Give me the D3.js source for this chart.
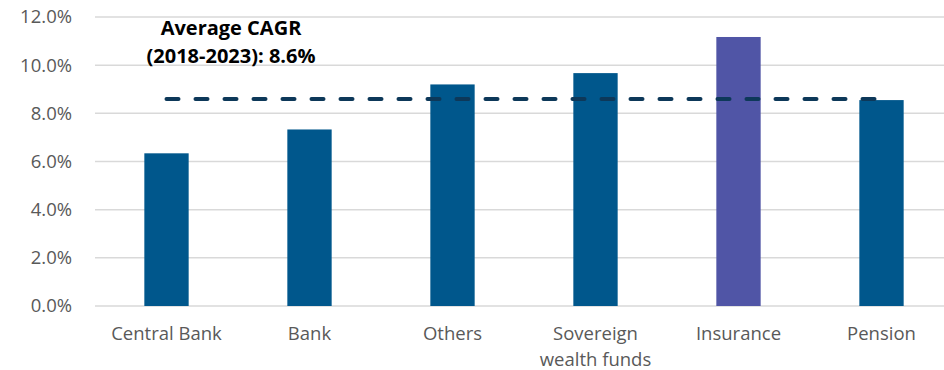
<!DOCTYPE html>
<html>
<head>
<meta charset="utf-8">
<script src="https://cdn.jsdelivr.net/npm/d3@7"></script>
<style>
  body { margin: 0; background: #fff; }
  svg { display: block; }
</style>
</head>
<body>
<script>
var categories = ["Central Bank", "Bank", "Others", "Sovereign wealth funds", "Insurance", "Pension"];
var catLines = [["Central Bank"], ["Bank"], ["Others"], ["Sovereign", "wealth funds"], ["Insurance"], ["Pension"]];
var cagr = [6.34, 7.33, 9.2, 9.67, 11.17, 8.55];
var average = 8.6;
var yTicks = [0, 2, 4, 6, 8, 10, 12];
var noteLines = ["Average CAGR", "(2018-2023): 8.6%"];

var width = 944, height = 370;
var svg = d3.select("body").append("svg")
    .attr("width", width)
    .attr("height", height);

var x = d3.scaleBand()
    .domain(categories)
    .range([95, 953])
    .paddingInner(0.69)
    .paddingOuter(0.345);

var y = d3.scaleLinear()
    .domain([0, 12])
    .range([306, 17]);

// gridlines
svg.append("g")
    .selectAll("line")
    .data(yTicks)
    .enter()
    .append("line")
    .attr("x1", 95)
    .attr("x2", 953)
    .attr("y1", function(d){ return y(d); })
    .attr("y2", function(d){ return y(d); })
    .attr("stroke", "#d9d9d9")
    .attr("stroke-width", 1.5);

// y axis labels
var yAxis = svg.append("g")
    .attr("transform", "translate(88,0)")
    .call(d3.axisLeft(y).tickValues(yTicks).tickSize(0).tickPadding(16)
        .tickFormat(function(d){ return d.toFixed(1) + "%"; }));
yAxis.select(".domain").remove();
yAxis.selectAll("text")
    .attr("fill", "#595959")
    .style("font-family", "Open Sans")
    .style("font-size", "18.5px");

// bars
svg.append("g")
    .selectAll("rect")
    .data(cagr)
    .enter()
    .append("rect")
    .attr("x", function(d, i){ return x(categories[i]); })
    .attr("y", function(d){ return y(d); })
    .attr("width", x.bandwidth())
    .attr("height", function(d){ return y(0) - y(d); })
    .attr("fill", function(d, i){ return categories[i] == "Insurance" ? "#5055a6" : "#00578c"; });

// average line
svg.append("line")
    .attr("x1", x(categories[0]) + x.bandwidth() / 2)
    .attr("x2", x(categories[categories.length - 1]) + x.bandwidth() / 2)
    .attr("y1", y(average))
    .attr("y2", y(average))
    .attr("stroke", "#0d3859")
    .attr("stroke-width", 4)
    .attr("stroke-linecap", "round")
    .attr("stroke-dasharray", "12,17");

// x labels
var xl = svg.append("g");
catLines.forEach(function(lines, i){
    var t = xl.append("text")
        .attr("x", x(categories[i]) + x.bandwidth() / 2)
        .attr("y", 340)
        .attr("text-anchor", "middle")
        .attr("fill", "#595959")
        .style("font-family", "Open Sans")
        .style("font-size", "18.5px");
    lines.forEach(function(l, j){
        t.append("tspan")
            .attr("x", x(categories[i]) + x.bandwidth() / 2)
            .attr("dy", j == 0 ? 0 : 26)
            .text(l);
    });
});

// annotation
noteLines.forEach(function(l, j){
    svg.append("text")
        .attr("x", 231)
        .attr("y", 35 + j * 28)
        .attr("text-anchor", "middle")
        .attr("fill", "#000")
        .style("font-family", "Open Sans")
        .style("font-weight", "bold")
        .style("font-size", "20px")
        .text(l);
});
</script>
</body>
</html>
